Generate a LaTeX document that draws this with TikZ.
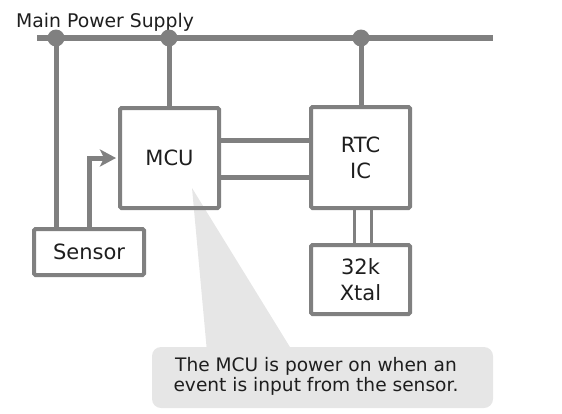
\documentclass[tikz,border=0pt]{standalone}
\usepackage{fontspec}
\newfontfamily\dv{DejaVu Sans}
\usetikzlibrary{arrows.meta}
\definecolor{linegray}{HTML}{808080}
\definecolor{callgray}{HTML}{E6E6E6}
\definecolor{txt}{HTML}{1E1E1E}
\tikzset{
  blk/.style={draw=linegray, line width=4pt, rounded corners=1.5pt, inner sep=0pt,
    text=txt, align=center, font={\dv\fontsize{21}{26}\selectfont}},
  wire/.style={draw=linegray, line width=5pt},
  thinwire/.style={draw=linegray, line width=3pt},
  bus/.style={draw=linegray, line width=6pt},
  dot/.style={circle, fill=linegray, inner sep=0pt, minimum size=17pt},
}
\begin{document}
\begin{tikzpicture}[x=1pt,y=-1pt]
\useasboundingbox (0,0) rectangle (562,413);
% callout
\fill[callgray, rounded corners=9pt] (152,347) rectangle (493,408);
\fill[callgray] (192,188) -- (207,352) -- (293,352) -- cycle;
\node[text=txt, align=center, font={\dv\fontsize{18.6}{19.5}\selectfont}, anchor=base] (note) at (316,391)
  {The MCU is power on when an\\event is input from the sensor.};
% title
\node[anchor=base west, inner sep=0pt, text=txt, font={\dv\fontsize{18.8}{22}\selectfont}] (title) at (16,27) {Main Power Supply};
% bus
\coordinate (busL) at (37,38);
\coordinate (busR) at (493,38);
\draw[bus] (busL) -- (busR);
\node[dot] (d1) at (56,38) {};
\node[dot] (d2) at (169,38) {};
\node[dot] (d3) at (361,38) {};
% boxes
\node[blk, minimum width=99pt, minimum height=100pt] (mcu) at (169.5,158) {MCU};
\node[blk, minimum width=99pt, minimum height=101pt] (rtc) at (360.5,157.5) {RTC\\IC};
\node[blk, minimum width=99pt, minimum height=69pt] (xtal) at (360.5,279.5) {32k\\Xtal};
\node[blk, minimum width=110pt, minimum height=46pt] (sensor) at (89,252) {Sensor};
% connectors
\coordinate (h1) at (0,140);
\coordinate (h2) at (0,177);
\coordinate (v1) at (354,0);
\coordinate (v2) at (371.5,0);
\draw[wire] (d1.center) -- (d1.center |- sensor.north);
\draw[wire] (d2.center) -- (d2.center |- mcu.north);
\draw[wire] (d3.center) -- (d3.center |- rtc.north);
\draw[wire] (mcu.east |- h1) -- (rtc.west |- h1);
\draw[wire] (mcu.east |- h2) -- (rtc.west |- h2);
\draw[thinwire] (v1 |- rtc.south) -- (v1 |- xtal.north);
\draw[thinwire] (v2 |- rtc.south) -- (v2 |- xtal.north);
\draw[wire, -{Stealth[length=16pt, width=17pt, inset=4pt]}] (sensor.north) |- ([xshift=-2pt]mcu.west);
\end{tikzpicture}
\end{document}
